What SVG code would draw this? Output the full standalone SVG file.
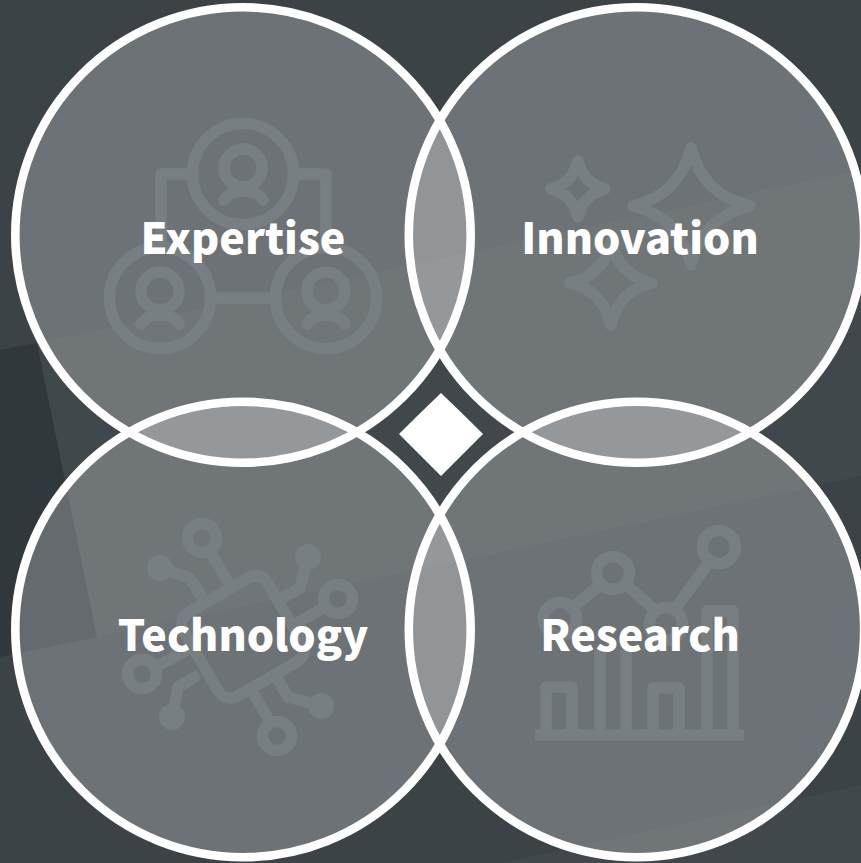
<svg xmlns="http://www.w3.org/2000/svg" width="861" height="863" viewBox="0 0 861 863">
<style>
.c{fill:#fff;fill-opacity:.25;stroke:#fff;stroke-width:8.6}
.i{fill:none;stroke:#787f83;stroke-width:11.5;stroke-linecap:round;stroke-linejoin:round}
.b{fill:none;stroke:#787f83;stroke-width:11.5;stroke-linecap:butt;stroke-linejoin:round}
.f{fill:#787f83}
.t{font-family:"Noto Sans CJK SC","Noto Sans",sans-serif;font-weight:900;font-size:43px;fill:#fff;text-anchor:middle}
</style>
<rect width="861" height="863" fill="#3b4347"/>
<g id="bg-texture">
<path d="M0 350L37 343L97 637L0 657Z" fill="#30383c"/>
<path d="M37 343L861 170V476L97 637Z" fill="#40484b"/>
<path d="M500 863L861 785V863Z" fill="#40484b"/>
</g>
<g id="expertise">
<circle class="c" cx="243" cy="235" r="227.7"/>
<g class="i"><circle cx="243" cy="174" r="50.5"/><circle cx="160" cy="298" r="50.5"/><circle cx="326" cy="298" r="50.5"/>
<path d="M193 174H161V248M293 174H326V248M210 298H276"/>
<circle cx="243" cy="168" r="19"/><path d="M224 200C231 188 256 188 263 200"/>
<circle cx="160" cy="291" r="19"/><path d="M141 324C148 312 172 312 179 324"/>
<circle cx="326" cy="291" r="19"/><path d="M307 324C314 312 338 312 345 324"/></g>
<text class="t" x="243" y="254">Expertise</text></g>
<g id="innovation">
<circle class="c" cx="636.5" cy="235" r="227.7"/>
<g class="i"><path d="M691 148C699 180 718 198 750 206C718 214 699 232 691 265C683 232 664 214 633 206C664 198 683 180 691 148Z"/>
<path d="M578 161C582 175 588 184 605 189C588 194 582 203 578 217C574 203 568 194 551 189C568 184 574 175 578 161Z"/>
<path d="M611 242C616 264 630 278 652 283C630 288 616 302 611 325C606 302 592 288 570 283C592 278 606 264 611 242Z"/></g>
<text class="t" x="640" y="254">Innovation</text></g>
<g id="technology">
<circle class="c" cx="243" cy="629.5" r="227.7"/>
<g class="i"><rect x="194.5" y="588.5" width="97" height="97" rx="14" transform="rotate(-30 243 637)"/>
<circle cx="202" cy="538" r="14.5"/><circle cx="338" cy="599" r="14.5"/><circle cx="142" cy="674" r="14.5"/><circle cx="277" cy="736" r="14.5"/>
<path d="M210 552L227 580M325 607L294 625M155 667L188 650M270 722L255 696"/>
<path d="M160 568L190 578L201 596M308 557L300 588L284 597M172 717L178 687L195 677M321 706L288 697L278 680"/></g>
<g class="f"><circle cx="160" cy="568" r="13"/><circle cx="308" cy="557" r="13"/><circle cx="172" cy="717" r="13"/><circle cx="321" cy="706" r="13"/></g>
<text class="t" x="243" y="651">Technology</text></g>
<g id="research">
<circle class="c" cx="636.5" cy="629.5" r="227.7"/>
<g class="b"><circle cx="560" cy="619" r="16.5"/><circle cx="613" cy="573" r="16.5"/><circle cx="666" cy="624" r="16.5"/><circle cx="719" cy="547" r="16.5"/>
<path d="M571 609L601 584M625 584L655 610M675 609L707 565"/>
<path d="M535 735H744M546 735V687H572V735M600 735V650M626 735V650M653 735V688H679V735M707 735V611H733V735"/></g>
<text class="t" x="640" y="651">Research</text></g>
<g id="center"><path d="M441 393Q462 413 483 434Q462 455 441 476Q420 455 399 434Q420 413 441 393Z" fill="#fff"/></g>
</svg>
